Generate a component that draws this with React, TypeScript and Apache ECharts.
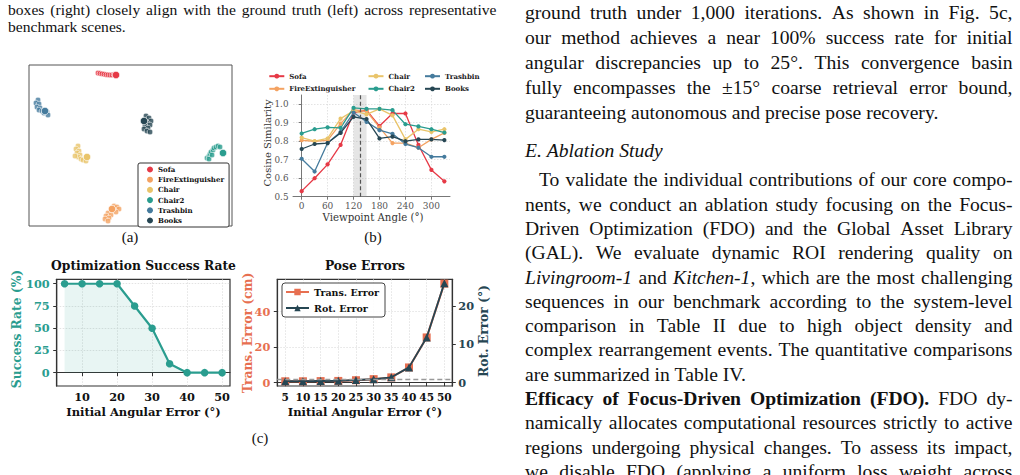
import React, { useEffect, useRef } from "react";
import * as echarts from "echarts";

// ---------- shared object palette ----------
const objectNames = ["Sofa", "FireExtinguisher", "Chair", "Chair2", "Trashbin", "Books"];
const objectColors = ["#e63946", "#f4a261", "#e9c46a", "#2a9d8f", "#457b9d", "#264653"];

// ---------- (a) 2-D embedding of per-view features ----------
const embSofa = [[-32, 72], [-30, 71.6], [-28, 71.2], [-26, 70.8], [-24, 70.4], [-22, 70.2], [-20, 70], [-18, 70], [-16, 70.3]];
const embFire = [[-16, -61], [-13, -62], [-11, -64], [-17, -65], [-14, -67], [-22, -68], [-19, -70], [-24, -71], [-21, -73], [-25, -74], [-22, -76]];
const embChair = [[-52, -1], [-54, -4], [-51, -6], [-53, -8], [-50, -10], [-52, -12], [-49, -14], [-47, -15], [-44, -16], [-55, -11]];
const embChair2 = [[77, -13], [79, -11], [80, -9], [81, -7], [83, -5], [84, -3], [86, -2], [88, -1], [90, -2], [79, -14], [82, -10]];
const embTrash = [[-92, 45], [-94, 42], [-91, 41], [-93, 38], [-90, 37], [-91, 35], [-88, 34], [-86, 32], [-83, 33], [-82, 30]];
const embBooks = [[16, 29], [19, 27], [21, 24], [17, 22], [20, 20], [15, 19], [18, 17], [14, 16], [17, 14], [20, 13]];
const embAnchors = [[-14, 70], [-18, -64], [-43, -12], [93, -8], [-85, 34], [14, 24]];

// ---------- (b) cosine similarity vs viewpoint ----------
const viewAngles = [0, 30, 60, 90, 120, 150, 180, 210, 240, 270, 300, 330];
const viewTicks = [0, 60, 120, 180, 240, 300];
const simTicks = [0.5, 0.6, 0.7, 0.8, 0.9, 1.0];
const simSofa = [0.53, 0.6, 0.675, 0.78, 0.955, 0.968, 0.882, 0.95, 0.95, 0.78, 0.645, 0.583];
const simFire = [0.805, 0.8, 0.805, 0.895, 0.97, 0.962, 0.875, 0.79, 0.79, 0.765, 0.81, 0.845];
const simChair = [0.82, 0.8, 0.815, 0.922, 0.965, 0.945, 0.975, 0.94, 0.81, 0.865, 0.85, 0.865];
const simChair2 = [0.842, 0.865, 0.875, 0.872, 0.98, 0.975, 0.975, 0.968, 0.892, 0.88, 0.865, 0.847];
const simTrash = [0.705, 0.636, 0.79, 0.85, 0.955, 0.905, 0.86, 0.84, 0.785, 0.765, 0.716, 0.716];
const simBooks = [0.758, 0.785, 0.79, 0.845, 0.932, 0.92, 0.815, 0.825, 0.8, 0.81, 0.81, 0.806];
const bandStart = 120;
const bandEnd = 150;
const bestAngle = 135;

// ---------- (c) convergence study ----------
const initErrors = [5, 10, 15, 20, 25, 30, 35, 40, 45, 50];
const successRate = [100, 100, 100, 100, 75, 50, 10, 0, 0, 0];
const transError = [0.8, 0.8, 0.9, 1.0, 1.4, 2.0, 3.0, 8.6, 25.5, 55.8];
const rotError = [0.4, 0.4, 0.45, 0.5, 0.7, 0.9, 1.4, 4.0, 11.8, 26.0];
const rotThreshold = 1.0;
const successTicks = [0, 25, 50, 75, 100];
const transTicks = [0, 20, 40];
const rotTicks = [0, 10, 20];

// ---------- page text ----------
const captionLines = [
  "boxes (right) closely align with the ground truth (left) across representative",
  "benchmark scenes.",
];
const convergenceLines = [
  "ground truth under 1,000 iterations. As shown in Fig. 5c,",
  "our method achieves a near 100% success rate for initial",
  "angular discrepancies up to 25°. This convergence basin",
  "fully encompasses the ±15° coarse retrieval error bound,",
  "guaranteeing autonomous and precise pose recovery.",
];
const sectionHeading = "_E. Ablation Study_";
const ablationLines = [
  "To validate the individual contributions of our core compo-",
  "nents, we conduct an ablation study focusing on the Focus-",
  "Driven Optimization (FDO) and the Global Asset Library",
  "(GAL). We evaluate dynamic ROI rendering quality on",
  "_Livingroom-1_ and _Kitchen-1_, which are the most challenging",
  "sequences in our benchmark according to the system-level",
  "comparison in Table II due to high object density and",
  "complex rearrangement events. The quantitative comparisons",
  "are summarized in Table IV.",
];
const fdoLines = [
  "*Efficacy of Focus-Driven Optimization (FDO).* FDO dy-",
  "namically allocates computational resources strictly to active",
  "regions undergoing physical changes. To assess its impact,",
  "we disable FDO (applying a uniform loss weight across",
];

const SERIF = "DejaVu Serif";
const TIMES = "Liberation Serif";
const TEAL = "#2a9d8f";
const CORAL = "#e76f51";
const NAVY = "#264653";

type Chunk = { text: string; style: "normal" | "italic" | "bold"; spaceBefore: boolean };

function tokenize(line: string): Chunk[] {
  const parts = line.split(/(\*[^*]+\*|_[^_]+_)/).filter((p) => p.length);
  const chunks: Chunk[] = [];
  let pending = false;
  for (const p of parts) {
    let style: Chunk["style"] = "normal";
    let body = p;
    if (p.length > 1 && p.startsWith("*") && p.endsWith("*")) {
      style = "bold";
      body = p.slice(1, -1);
    } else if (p.length > 1 && p.startsWith("_") && p.endsWith("_")) {
      style = "italic";
      body = p.slice(1, -1);
    }
    for (const pc of body.split(/( +)/)) {
      if (!pc) continue;
      if (/^ +$/.test(pc)) {
        pending = true;
        continue;
      }
      chunks.push({ text: pc, style, spaceBefore: pending && chunks.length > 0 });
      pending = false;
    }
  }
  return chunks;
}

const measureCtx = document.createElement("canvas").getContext("2d") as CanvasRenderingContext2D;

function fontOf(style: Chunk["style"], size: number) {
  return `${style === "italic" ? "italic " : ""}${style === "bold" ? "bold " : ""}${size}px "${TIMES}"`;
}

// Lays out one line of running text, word by word, optionally justified between x0 and x1.
function setLine(line: string, x0: number, x1: number, y: number, size: number, justify: boolean) {
  const chunks = tokenize(line);
  const words: Chunk[][] = [];
  for (const c of chunks) {
    if (c.spaceBefore || !words.length) words.push([c]);
    else words[words.length - 1].push(c);
  }
  const widthOf = (c: Chunk) => {
    measureCtx.font = fontOf(c.style, size);
    return measureCtx.measureText(c.text).width;
  };
  const wordWidths = words.map((w) => w.reduce((s, c) => s + widthOf(c), 0));
  const total = wordWidths.reduce((s, v) => s + v, 0);
  measureCtx.font = fontOf("normal", size);
  const space = measureCtx.measureText(" ").width;
  const gap = justify && words.length > 1 ? (x1 - x0 - total) / (words.length - 1) : space;
  const out: any[] = [];
  let x = x0;
  words.forEach((w, i) => {
    let cx = x;
    for (const c of w) {
      out.push({
        type: "text",
        x: cx,
        y,
        silent: true,
        style: {
          text: c.text,
          fontFamily: TIMES,
          fontSize: size,
          fontStyle: c.style === "italic" ? "italic" : "normal",
          fontWeight: c.style === "bold" ? "bold" : "normal",
          fill: "#111",
          align: "left",
          verticalAlign: "middle",
        },
      });
      cx += widthOf(c);
    }
    x += wordWidths[i] + gap;
  });
  return out;
}

function label(text: string, x: number, y: number, opts: any = {}) {
  const { rotate, ...style } = opts;
  return {
    type: "text",
    x,
    y,
    rotation: rotate ? Math.PI / 2 : 0,
    silent: true,
    style: {
      text,
      fontFamily: SERIF,
      fontSize: 11,
      fill: "#111",
      align: "center",
      verticalAlign: "middle",
      ...style,
    },
  };
}

function buildOption() {
  const BODY = 19.6;
  const CAP = 15.6;
  const L0 = 525;
  const L1 = 1012.5;
  const g: any[] = [];

  captionLines.forEach((ln, i) => {
    g.push(...setLine(ln, 8, 496.5, 9.5 + i * 17, CAP, i < captionLines.length - 1));
  });
  convergenceLines.forEach((ln, i) => {
    g.push(...setLine(ln, L0, L1, 12.8 + i * 24.9, BODY, i < convergenceLines.length - 1));
  });
  g.push(...setLine(sectionHeading, L0, L1, 150.5, BODY, false));
  const paraTop = 179.8;
  const lead = 24.3;
  ablationLines.forEach((ln, i) => {
    g.push(...setLine(ln, i === 0 ? L0 + 14 : L0, L1, paraTop + i * lead, BODY, i < ablationLines.length - 1));
  });
  fdoLines.forEach((ln, i) => {
    g.push(...setLine(ln, L0, L1, paraTop + (ablationLines.length + i) * lead, BODY, true));
  });

  // panel captions
  g.push(label("(a)", 130, 237, { fontFamily: TIMES, fontSize: 15 }));
  g.push(label("(b)", 373, 237, { fontFamily: TIMES, fontSize: 15 }));
  g.push(label("(c)", 260, 438, { fontFamily: TIMES, fontSize: 15 }));

  // (b) axis titles
  g.push(label("Cosine Similarity", 267, 143, { rotate: true, fontSize: 10, fill: "#333" }));
  g.push(label("Viewpoint Angle (°)", 373, 217.5, { fontSize: 10.2, fill: "#333" }));

  // (c) titles and axis titles
  g.push(label("Optimization Success Rate", 143.5, 265.5, { fontWeight: "bold", fontSize: 12.3 }));
  g.push(label("Pose Errors", 365, 265.5, { fontWeight: "bold", fontSize: 12.3 }));
  g.push(label("Success Rate (%)", 16.5, 329, { rotate: true, fontWeight: "bold", fontSize: 12.3, fill: TEAL }));
  g.push(label("Trans. Error (cm)", 247.5, 333, { rotate: true, fontWeight: "bold", fontSize: 12.3, fill: CORAL }));
  g.push(label("Rot. Error (°)", 483, 331, { rotate: true, fontWeight: "bold", fontSize: 12.3, fill: NAVY }));
  g.push(label("Initial Angular Error (°)", 143.5, 412, { fontWeight: "bold", fontSize: 11.5 }));
  g.push(label("Initial Angular Error (°)", 365, 412, { fontWeight: "bold", fontSize: 11.5 }));

  const dotted = { show: true, lineStyle: { color: "#dcdcdc", type: [1.5, 1.5], width: 0.8 } };
  const boldTick = (color: string, size = 11.3) => ({
    color,
    fontFamily: SERIF,
    fontWeight: "bold",
    fontSize: size,
  });

  const sims = [simSofa, simFire, simChair, simChair2, simTrash, simBooks];
  const embs = [embSofa, embFire, embChair, embChair2, embTrash, embBooks];

  const lineSeries = sims.map((arr, i) => {
    const s: any = {
      type: "line",
      name: objectNames[i],
      xAxisIndex: 1,
      yAxisIndex: 1,
      data: viewAngles.map((a, k) => [a, arr[k]]),
      symbol: "circle",
      symbolSize: 4.2,
      lineStyle: { width: 1.3, color: objectColors[i] },
      itemStyle: { color: objectColors[i] },
      silent: true,
      z: 3,
    };
    if (i === 0) {
      s.markArea = {
        silent: true,
        itemStyle: { color: "rgba(150,150,150,0.25)" },
        data: [[{ xAxis: bandStart }, { xAxis: bandEnd }]],
      };
      s.markLine = {
        silent: true,
        symbol: "none",
        label: { show: false },
        lineStyle: { color: "#555", type: [4, 2.5], width: 1.2 },
        data: [{ xAxis: bestAngle }],
      };
    }
    return s;
  });

  const scatterSeries = embs.map((pts, i) => ({
    type: "scatter",
    name: objectNames[i],
    xAxisIndex: 0,
    yAxisIndex: 0,
    symbolSize: 5.6,
    silent: true,
    itemStyle: { color: objectColors[i], opacity: 0.8, borderColor: "#fff", borderWidth: 0.7 },
    data: [
      ...pts.map((p) => ({ value: p })),
      { value: embAnchors[i], symbolSize: 7.5, itemStyle: { opacity: 1 } },
    ],
  }));

  return {
    animation: false,
    backgroundColor: "#fff",
    grid: [
      { left: 29, top: 65, width: 203, height: 161, show: true, borderColor: "#555", borderWidth: 1, backgroundColor: "transparent" },
      { left: 293, top: 95, width: 157, height: 101.7 },
      { left: 56.7, top: 279.3, width: 173.3, height: 106.7, show: true, borderColor: "#333", borderWidth: 1.2, backgroundColor: "transparent" },
      { left: 277.3, top: 279.3, width: 175, height: 106.7, show: true, borderColor: "#333", borderWidth: 1.2, backgroundColor: "transparent" },
    ],
    xAxis: [
      { gridIndex: 0, type: "value", min: -101, max: 102, show: false },
      {
        gridIndex: 1,
        type: "value",
        min: -20,
        max: 343,
        axisLine: { show: true, lineStyle: { color: "#777", width: 1 } },
        axisTick: { show: true, length: 3, customValues: viewTicks, lineStyle: { color: "#777" } },
        axisLabel: { customValues: viewTicks, color: "#555", fontFamily: SERIF, fontSize: 9, margin: 5 },
        splitLine: dotted,
      },
      {
        gridIndex: 2,
        type: "value",
        min: 2.75,
        max: 52.25,
        axisLine: { show: true, lineStyle: { color: "#333", width: 1.2 } },
        axisTick: { show: true, length: 3.5, customValues: [10, 20, 30, 40, 50], lineStyle: { color: "#333" } },
        axisLabel: { customValues: [10, 20, 30, 40, 50], ...boldTick("#111"), margin: 5 },
        splitLine: dotted,
      },
      {
        gridIndex: 3,
        type: "value",
        min: 2.75,
        max: 52.25,
        axisLine: { show: true, lineStyle: { color: "#333", width: 1.2 } },
        axisTick: { show: true, length: 3.5, customValues: initErrors, lineStyle: { color: "#333" } },
        axisLabel: { customValues: initErrors, ...boldTick("#111", 10.6), margin: 5 },
        splitLine: dotted,
      },
    ],
    yAxis: [
      { gridIndex: 0, type: "value", min: -81, max: 80, show: false },
      {
        gridIndex: 1,
        type: "value",
        min: 0.5,
        max: 1.05,
        axisLine: { show: true, lineStyle: { color: "#777", width: 1 } },
        axisTick: { show: true, length: 3, customValues: simTicks, lineStyle: { color: "#777" } },
        axisLabel: {
          customValues: simTicks,
          formatter: (v: number) => v.toFixed(1),
          color: "#555",
          fontFamily: SERIF,
          fontSize: 8.8,
          margin: 4.5,
        },
        splitLine: dotted,
      },
      {
        gridIndex: 2,
        type: "value",
        min: -15,
        max: 105,
        axisLine: { show: true, lineStyle: { color: "#333", width: 1.2 } },
        axisTick: { show: true, length: 3.5, customValues: successTicks, lineStyle: { color: "#333" } },
        axisLabel: { customValues: successTicks, ...boldTick(TEAL), margin: 7 },
        splitLine: dotted,
      },
      {
        gridIndex: 3,
        type: "value",
        min: -1.86,
        max: 58.25,
        axisLine: { show: true, lineStyle: { color: "#333", width: 1.2 } },
        axisTick: { show: true, length: 3.5, customValues: transTicks, lineStyle: { color: "#333" } },
        axisLabel: { customValues: transTicks, ...boldTick(CORAL), margin: 7 },
        splitLine: dotted,
      },
      {
        gridIndex: 3,
        type: "value",
        position: "right",
        min: -0.862,
        max: 27.0,
        axisLine: { show: true, lineStyle: { color: "#333", width: 1.2 } },
        axisTick: { show: true, length: 3.5, customValues: rotTicks, lineStyle: { color: "#333" } },
        axisLabel: { customValues: rotTicks, ...boldTick(NAVY), margin: 6 },
        splitLine: { show: false },
      },
    ],
    legend: [
      {
        orient: "vertical",
        left: 138,
        top: 163,
        padding: [3, 5, 3, 9],
        itemGap: 3.2,
        itemWidth: 6,
        itemHeight: 6,
        icon: "circle",
        borderColor: "#333",
        borderWidth: 1,
        borderRadius: 2,
        backgroundColor: "#fff",
        selectedMode: false,
        textStyle: { fontFamily: SERIF, fontWeight: "bold", fontSize: 7, color: "#111" },
        data: objectNames,
      },
      ...[
        [objectNames[0], objectNames[1], 268.3],
        [objectNames[2], objectNames[3], 367.5],
        [objectNames[4], objectNames[5], 424],
      ].map(([a, b, left]) => ({
        orient: "vertical",
        left,
        top: 72.7,
        padding: 0,
        itemGap: 5.6,
        itemWidth: 15,
        itemHeight: 6,
        selectedMode: false,
        textStyle: { fontFamily: SERIF, fontWeight: "bold", fontSize: 7, color: "#222" },
        data: [a, b],
      })),
      {
        orient: "vertical",
        left: 282,
        top: 283,
        padding: [4, 6, 4, 3],
        itemGap: 6,
        itemWidth: 23,
        itemHeight: 8,
        borderColor: "#444",
        borderWidth: 1,
        borderRadius: 3,
        backgroundColor: "rgba(255,255,255,0.9)",
        selectedMode: false,
        textStyle: { fontFamily: SERIF, fontWeight: "bold", fontSize: 9.5, color: "#111" },
        data: ["Trans. Error", "Rot. Error"],
      },
    ],
    series: [
      ...lineSeries,
      ...scatterSeries,
      {
        type: "line",
        name: "Success Rate",
        xAxisIndex: 2,
        yAxisIndex: 2,
        data: initErrors.map((e, k) => [e, successRate[k]]),
        symbol: "circle",
        symbolSize: 7.5,
        silent: true,
        lineStyle: { width: 2.2, color: TEAL },
        itemStyle: { color: TEAL },
        areaStyle: { color: "rgba(42,157,143,0.15)" },
      },
      {
        type: "line",
        name: "Trans. Error",
        xAxisIndex: 3,
        yAxisIndex: 3,
        data: initErrors.map((e, k) => [e, transError[k]]),
        symbol: "rect",
        symbolSize: 8,
        silent: true,
        lineStyle: { width: 2, color: CORAL },
        itemStyle: { color: CORAL },
      },
      {
        type: "line",
        name: "Rot. Error",
        xAxisIndex: 3,
        yAxisIndex: 4,
        data: initErrors.map((e, k) => [e, rotError[k]]),
        symbol: "triangle",
        symbolSize: 8,
        silent: true,
        z: 4,
        lineStyle: { width: 1.8, color: NAVY },
        itemStyle: { color: NAVY },
        markLine: {
          silent: true,
          symbol: "none",
          label: { show: false },
          lineStyle: { color: "#999", type: [5, 3], width: 1.4 },
          data: [{ yAxis: rotThreshold }],
        },
      },
    ],
    graphic: { elements: g },
  };
}

export default function App() {
  const ref = useRef<HTMLDivElement>(null);
  useEffect(() => {
    if (!ref.current) return;
    const chart = echarts.init(ref.current, undefined, { renderer: "svg" });
    chart.setOption(buildOption() as any);
    return () => chart.dispose();
  }, []);
  return (
    <div
      ref={ref}
      style={{ position: "fixed", left: 0, top: 0, width: 1020, height: 475, background: "#fff" }}
    />
  );
}
